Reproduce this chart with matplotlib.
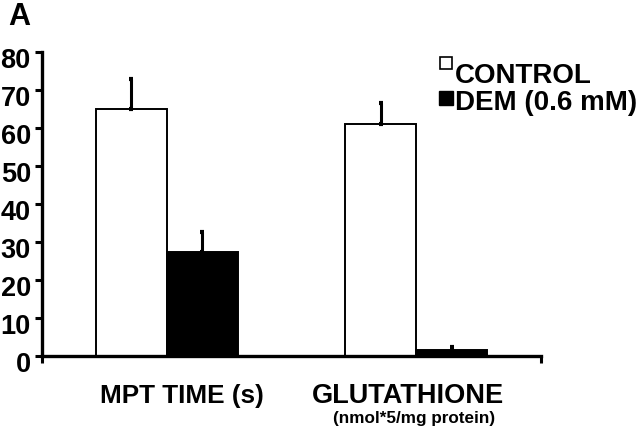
import matplotlib.pyplot as plt
import matplotlib.transforms as mtransforms
from matplotlib.patches import Rectangle

plt.rcParams['font.family'] = ['Liberation Sans', 'DejaVu Sans']
plt.rcParams['font.weight'] = 'bold'

groups = ['MPT TIME (s)', 'GLUTATHIONE']
group_sub = ['', '(nmol*5/mg protein)']
series = ['CONTROL', 'DEM (0.6 mM)']
control_vals = [65, 61]
control_err = [8, 5.7]
dem_vals = [27.3, 1.6]
dem_err = [5.3, 0.7]
y_ticks = [0, 10, 20, 30, 40, 50, 60, 70, 80]

fig = plt.figure(figsize=(6.4, 4.39), dpi=100)
ax = fig.add_axes([0.0656, 0.187, 0.7794, 0.692])

centers = [0.5, 1.5]
w = 0.285
for i, c in enumerate(centers):
    ax.bar(c - w / 2, control_vals[i], w, color='white', edgecolor='black', linewidth=1.4, zorder=2)
    ax.bar(c + w / 2, dem_vals[i], w, color='black', edgecolor='black', linewidth=1.4, zorder=2)
    ax.errorbar(c - w / 2, control_vals[i], yerr=[[0], [control_err[i]]], fmt='none',
                ecolor='black', elinewidth=2.2, capsize=1.5, capthick=3, zorder=3)
    ax.errorbar(c + w / 2, dem_vals[i], yerr=[[0], [dem_err[i]]], fmt='none',
                ecolor='black', elinewidth=2.2, capsize=1.5, capthick=3, zorder=3)

ax.set_xlim(0, 2)
ax.set_ylim(0, 80)
ax.set_yticks(y_ticks)
ax.set_yticklabels([str(t) for t in y_ticks], fontsize=19.5, fontweight='bold', va='top')
ax.set_xticks([0, 2])
ax.set_xticklabels(['', ''])
ax.tick_params(axis='both', direction='out', length=5, width=2.2, pad=2)
ax.tick_params(axis='y', pad=3)
for s in ['top', 'right']:
    ax.spines[s].set_visible(False)
for s in ['left', 'bottom']:
    ax.spines[s].set_linewidth(2.4)

# tick labels sit a little below their ticks in the reference
offset = mtransforms.ScaledTranslation(0, 5 / 100, fig.dpi_scale_trans)
for lab in ax.get_yticklabels():
    lab.set_transform(lab.get_transform() + offset)

xt = ax.get_xaxis_transform()
ax.text(0.561, -0.128, groups[0], transform=xt, ha='center', va='center', fontsize=18.8, fontweight='bold')
ax.text(1.467, -0.128, groups[1], transform=xt, ha='center', va='center', fontsize=19.5, fontweight='bold')
ax.text(1.491, -0.203, group_sub[1], transform=xt, ha='center', va='center', fontsize=12.3, fontweight='bold')

# legend
W, H = 640, 439
fig.patches.append(Rectangle((440 / W, 1 - 70 / H), 12 / W, 12 / H, transform=fig.transFigure,
                             facecolor='white', edgecolor='black', linewidth=1.2))
fig.patches.append(Rectangle((439 / W, 1 - 106 / H), 14 / W, 14 / H, transform=fig.transFigure,
                             facecolor='black', edgecolor='black', linewidth=1))
fig.text(455 / W, 1 - 76 / H, series[0], ha='left', va='center', fontsize=20, fontweight='bold')
fig.text(455 / W, 1 - 103 / H, series[1], ha='left', va='center', fontsize=20, fontweight='bold')

fig.text(8 / W, 1 - 17 / H, 'A', ha='left', va='center', fontsize=22, fontweight='bold')

fig.savefig('out.png', dpi=100, facecolor='white')
